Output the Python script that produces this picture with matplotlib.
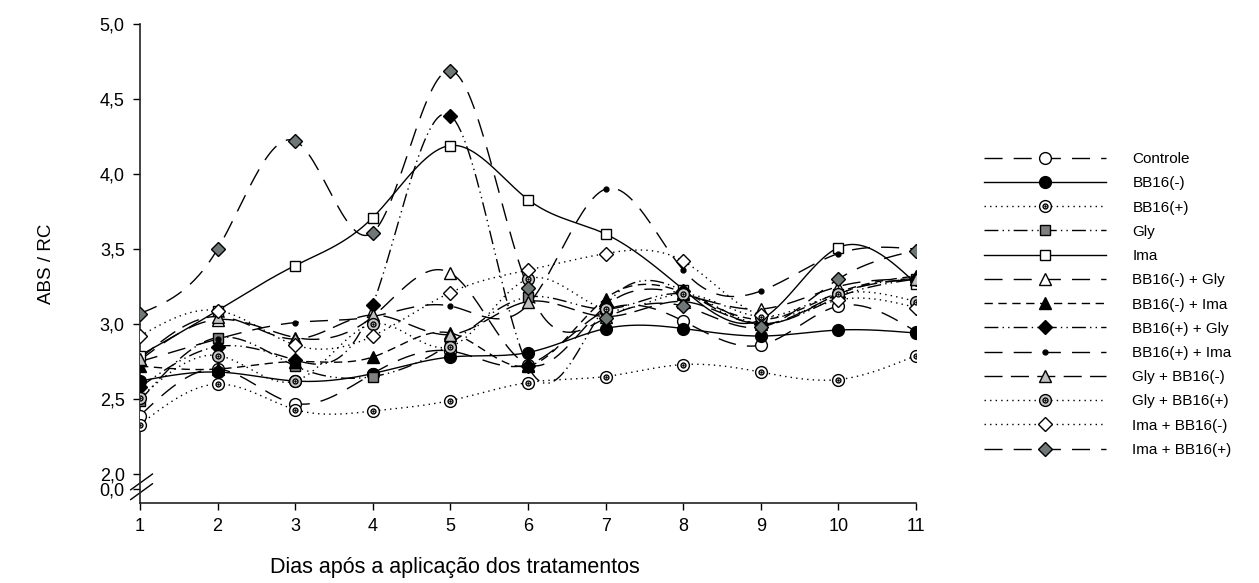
import numpy as np
import matplotlib
matplotlib.use("Agg")
import matplotlib.pyplot as plt
from matplotlib.lines import Line2D

plt.rcParams['font.family'] = ['Liberation Sans', 'DejaVu Sans']

days = list(range(1, 12))
series_names = ["Controle", "BB16(-)", "BB16(+)", "Gly", "Ima",
                "BB16(-) + Gly", "BB16(-) + Ima", "BB16(+) + Gly", "BB16(+) + Ima",
                "Gly + BB16(-)", "Gly + BB16(+)", "Ima + BB16(-)", "Ima + BB16(+)"]

controle      = [2.39, 2.70, 2.47, 2.67, 2.82, 2.73, 3.09, 3.02, 2.86, 3.12, 2.95]
bb16_neg      = [2.62, 2.68, 2.62, 2.67, 2.78, 2.81, 2.97, 2.97, 2.92, 2.96, 2.94]
bb16_pos      = [2.33, 2.60, 2.43, 2.42, 2.49, 2.61, 2.65, 2.73, 2.68, 2.63, 2.79]
gly           = [2.49, 2.91, 2.72, 2.65, 2.87, 3.18, 3.10, 3.20, 3.00, 3.20, 3.30]
ima           = [2.79, 3.09, 3.39, 3.71, 4.19, 3.83, 3.60, 3.23, 3.03, 3.51, 3.27]
bb16n_gly     = [2.76, 3.03, 2.91, 3.05, 3.34, 2.73, 3.12, 3.20, 3.10, 3.25, 3.30]
bb16n_ima     = [2.72, 2.70, 2.75, 2.78, 2.94, 2.72, 3.17, 3.21, 3.03, 3.21, 3.32]
bb16p_gly     = [2.58, 2.85, 2.76, 3.13, 4.39, 2.72, 3.12, 3.22, 3.00, 3.18, 3.30]
bb16p_ima     = [2.75, 2.90, 3.01, 3.05, 3.12, 3.13, 3.90, 3.36, 3.22, 3.47, 3.50]
gly_bb16n     = [2.77, 3.05, 2.90, 3.06, 2.93, 3.15, 3.05, 3.15, 3.00, 3.20, 3.30]
gly_bb16p     = [2.51, 2.79, 2.62, 3.00, 2.85, 3.30, 3.10, 3.20, 3.05, 3.20, 3.15]
ima_bb16n     = [2.92, 3.09, 2.86, 2.92, 3.21, 3.36, 3.47, 3.42, 3.06, 3.16, 3.11]
ima_bb16p     = [3.07, 3.50, 4.22, 3.61, 4.69, 3.24, 3.04, 3.12, 2.98, 3.30, 3.49]

all_series = [controle, bb16_neg, bb16_pos, gly, ima, bb16n_gly, bb16n_ima,
              bb16p_gly, bb16p_ima, gly_bb16n, gly_bb16p, ima_bb16n, ima_bb16p]

ytick_vals = [1.9, 2.0, 2.5, 3.0, 3.5, 4.0, 4.5, 5.0]
ytick_labels = ["0,0", "2,0", "2,5", "3,0", "3,5", "4,0", "4,5", "5,0"]

LONG = (13, 8)
MED = (6, 4)
DOT = (1, 3)
DDOT = (10, 3, 1, 3, 1, 3)
LDS = (13, 6, 13, 6)

styles = [
    dict(marker='o', mfc='white', ms=8.5, dashes=LONG),
    dict(marker='o', mfc='black', ms=8.5, dashes=None),
    dict(marker='o', mfc='white', ms=8.5, dashes=DOT, inner=True),
    dict(marker='s', mfc='#808080', ms=7.5, dashes=DDOT),
    dict(marker='s', mfc='white', ms=7.5, dashes=None),
    dict(marker='^', mfc='white', ms=8.5, dashes=LONG),
    dict(marker='^', mfc='black', ms=8.5, dashes=MED),
    dict(marker='D', mfc='black', ms=7.5, dashes=DDOT),
    dict(marker='o', mfc='black', ms=3.5, dashes=LONG),
    dict(marker='^', mfc='#c0c0c0', ms=8.5, dashes=LDS),
    dict(marker='o', mfc='#c8c8c8', ms=8.5, dashes=DOT, inner=True),
    dict(marker='D', mfc='white', ms=7.5, dashes=DOT),
    dict(marker='D', mfc='#6f7777', ms=7.5, dashes=LONG),
]


def natural_spline(x, y, n=30):
    x = np.asarray(x, float)
    y = np.asarray(y, float)
    m = len(x)
    h = np.diff(x)
    A = np.zeros((m, m))
    b = np.zeros(m)
    A[0, 0] = 1
    A[-1, -1] = 1
    for i in range(1, m - 1):
        A[i, i - 1] = h[i - 1]
        A[i, i] = 2 * (h[i - 1] + h[i])
        A[i, i + 1] = h[i]
        b[i] = 6 * ((y[i + 1] - y[i]) / h[i] - (y[i] - y[i - 1]) / h[i - 1])
    M = np.linalg.solve(A, b)
    xs, ys = [], []
    for i in range(m - 1):
        t = np.linspace(x[i], x[i + 1], n, endpoint=(i == m - 2))
        a = x[i + 1] - t
        c = t - x[i]
        s = (M[i] * a ** 3 / (6 * h[i]) + M[i + 1] * c ** 3 / (6 * h[i])
             + (y[i] / h[i] - M[i] * h[i] / 6) * a
             + (y[i + 1] / h[i] - M[i + 1] * h[i] / 6) * c)
        xs.append(t)
        ys.append(s)
    return np.concatenate(xs), np.concatenate(ys)


fig = plt.figure(figsize=(12.59, 5.83), dpi=100)
ax = fig.add_axes([140 / 1259, 1 - 503 / 583, (916 - 140) / 1259, (503 - 24) / 583])

handles = []
for name, vals, st in zip(series_names, all_series, styles):
    xs, ys = natural_spline(days, vals)
    ln, = ax.plot(xs, ys, color='black', lw=1.0)
    if st['dashes'] is not None:
        ln.set_dashes(st['dashes'])
    ax.plot(days, vals, linestyle='none', marker=st['marker'], ms=st['ms'],
            mfc=st['mfc'], mec='black', mew=1.0, zorder=3)
    hl = Line2D([], [], color='black', lw=1.0, marker=st['marker'], ms=st['ms'],
                mfc=st['mfc'], mec='black', mew=1.0)
    if st['dashes'] is not None:
        hl.set_dashes(st['dashes'])
    if st.get('inner'):
        ax.plot(days, vals, linestyle='none', marker='o', ms=3.5, mfc='white',
                mec='black', mew=1.0, zorder=4)
        ax.plot(days, vals, linestyle='none', marker='o', ms=1.2, mfc='black',
                mec='black', mew=0.5, zorder=5)
        inner = Line2D([], [], linestyle='none', marker='o', ms=3.5, mfc='white',
                       mec='black', mew=1.0)
        dot = Line2D([], [], linestyle='none', marker='o', ms=1.2, mfc='black',
                     mec='black', mew=0.5)
        handles.append((hl, inner, dot))
    else:
        handles.append(hl)

ax.set_xlim(1, 11)
ax.set_ylim(1.807, 5.0)
ax.set_xticks(days)
ax.set_xticklabels([str(d) for d in days], fontsize=13)
ax.set_yticks(ytick_vals)
ax.set_yticklabels(ytick_labels, fontsize=13)
ax.tick_params(direction='out', length=5, width=1, pad=6)
for side in ['top', 'right']:
    ax.spines[side].set_visible(False)
for side in ['left', 'bottom']:
    ax.spines[side].set_linewidth(1.2)
    ax.spines[side].set_color('#222222')

# axis break marks
kw = dict(color='black', lw=1, clip_on=False)
trans = ax.get_yaxis_transform()
ax.plot([-0.012, 0.016], [1.895, 2.0], transform=trans, **kw)
ax.plot([-0.012, 0.016], [1.83, 1.935], transform=trans, **kw)

ax.set_ylabel("ABS / RC", fontsize=13.5, labelpad=32)
fig.text(455 / 1259, 1 - 567 / 583, "Dias após a aplicação dos tratamentos",
         fontsize=15.5, ha='center', va='center')

fig.legend(handles, series_names, loc='upper left', bbox_to_anchor=(978 / 1259, 1 - 146 / 583),
           frameon=False, fontsize=11, handlelength=8.0, handletextpad=1.7,
           labelspacing=0.67, borderaxespad=0)

fig.savefig("out.png", dpi=100)
